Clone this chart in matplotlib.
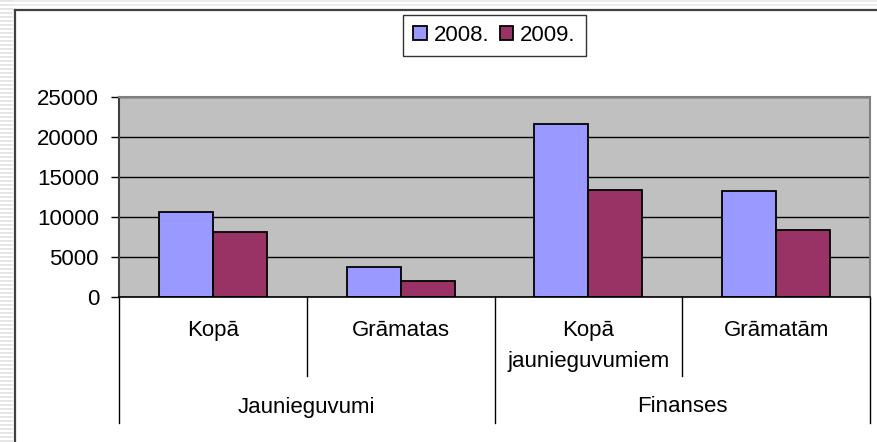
import matplotlib
matplotlib.use("Agg")
import matplotlib.pyplot as plt
from matplotlib.patches import Patch, Rectangle
from matplotlib.lines import Line2D
import matplotlib.transforms as mtransforms
import numpy as np

plt.rcParams['font.family'] = ['Liberation Sans', 'DejaVu Sans']

categories = ["Kopā", "Grāmatas", "Kopā\njaunieguvumiem", "Grāmatām"]
groups = ["Jaunieguvumi", "Finanses"]
series_names = ["2008.", "2009."]
values_2008 = [10600, 3800, 21600, 13200]
values_2009 = [8100, 2000, 13400, 8400]
yticks = [0, 5000, 10000, 15000, 20000, 25000]

colors = ["#9999FF", "#993366"]
FS = 16

W, H = 877, 442
fig = plt.figure(figsize=(W / 100, H / 100), dpi=100)
fig.patch.set_facecolor("white")

def px(x, y):
    return x / W, 1 - y / H

# background stripes outside the frame
for yy in range(0, H, 4):
    fig.add_artist(Rectangle(px(0, yy + 2), 13 / W, 2 / H, transform=fig.transFigure,
                             facecolor="#e6e6e6", edgecolor="none", zorder=0))
for yy in range(0, 8, 4):
    fig.add_artist(Rectangle(px(13, yy + 2), (W - 13) / W, 2 / H, transform=fig.transFigure,
                             facecolor="#ececec", edgecolor="none", zorder=0))
# frame
x0, y0 = px(15, 9.5)
fig.add_artist(Line2D([x0, x0], [0, y0], transform=fig.transFigure, color="#404040", lw=1.6))
fig.add_artist(Line2D([x0, 1], [y0, y0], transform=fig.transFigure, color="#404040", lw=1.6))

left, right, top, bottom = 119, 870, 97, 297
ax = fig.add_axes([left / W, (H - bottom) / H, (right - left) / W, (bottom - top) / H])
ax.set_facecolor("#C0C0C0")

x = np.arange(len(categories))
bw = 0.287
ax.bar(x - bw / 2, values_2008, width=bw, color=colors[0], edgecolor="black", linewidth=1.3,
       label=series_names[0], zorder=3)
ax.bar(x + bw / 2, values_2009, width=bw, color=colors[1], edgecolor="black", linewidth=1.3,
       label=series_names[1], zorder=3)

ax.set_xlim(-0.5, len(categories) - 0.5)
ax.set_ylim(0, 25000)
ax.set_yticks(yticks)
ax.set_yticklabels([str(v) for v in yticks], fontsize=FS)
ax.yaxis.grid(True, color="black", linewidth=1.0, zorder=1)
ax.set_axisbelow(True)
ax.tick_params(axis="y", length=5.8, width=1, color="black", pad=8.6)
ax.set_xticks([])

ax.spines["top"].set_color("#808080")
ax.spines["top"].set_linewidth(1.5)
ax.spines["right"].set_color("#808080")
ax.spines["right"].set_linewidth(1.5)
ax.spines["left"].set_color("#404040")
ax.spines["left"].set_linewidth(1.5)
ax.spines["bottom"].set_color("black")
ax.spines["bottom"].set_linewidth(1.2)
ax.spines["bottom"].set_zorder(4)

trans = mtransforms.blended_transform_factory(ax.transData, ax.transAxes)
ph = bottom - top
def ay(ypx):
    return (bottom - ypx) / ph

# category labels
for i, c in enumerate(categories):
    ax.text(x[i], ay(320), c, transform=trans, ha="center", va="top", fontsize=FS,
            linespacing=1.65)
# group labels
for gi, g in enumerate(groups):
    ax.text(gi * 2 + 0.5, ay(407), g, transform=trans, ha="center", va="center", fontsize=FS)

# separators
for sx in [0.5, 2.5]:
    ax.plot([sx, sx], [0, ay(376)], transform=trans, color="black", lw=1, clip_on=False)
for sx in [-0.5, 1.5, 3.5]:
    ax.plot([sx, sx], [0, ay(423)], transform=trans, color="black", lw=1, clip_on=False)

handles = [Patch(facecolor=colors[0], edgecolor="black", linewidth=1.3),
           Patch(facecolor=colors[1], edgecolor="black", linewidth=1.3)]
leg = ax.legend(handles, series_names, loc="upper center",
                bbox_to_anchor=((left + right) / 2 / W, 1 - 15 / H),
                bbox_transform=fig.transFigure, ncol=2, fontsize=FS, frameon=True,
                fancybox=False, edgecolor="black", borderaxespad=0,
                handlelength=0.6, handleheight=0.6, handletextpad=0.3,
                columnspacing=0.5, borderpad=0.45)
leg.get_frame().set_linewidth(1.0)

fig.savefig("out.png", dpi=100, facecolor="white")
